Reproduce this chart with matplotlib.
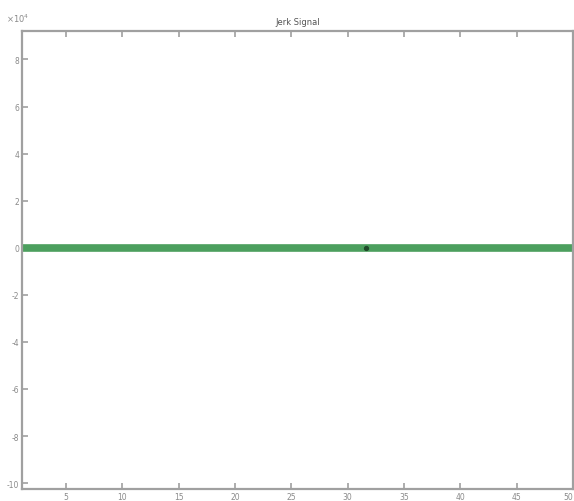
import numpy as np
import matplotlib.pyplot as plt

# signal samples (flat at zero) and the one flagged sample
t = np.arange(1, 51)
signal = np.zeros(len(t))
flag_t = [31.6]
flag_val = [0.0]

xticks = [5, 10, 15, 20, 25, 30, 35, 40, 45, 50]
yticks = [8, 6, 4, 2, 0, -2, -4, -6, -8, -10]

fig = plt.figure(figsize=(5.74, 5.02), dpi=100)
ax = fig.add_axes([0.0383, 0.0239, 0.96, 0.912])

ax.plot(t, signal, color='#4c9f5e', linewidth=5.5, solid_capstyle='butt')
ax.plot(flag_t, flag_val, 'o', color='#1f4a2a', markersize=2.8)

ax.set_xlim(1.1, 50)
ax.set_ylim(-10.25, 9.2)
ax.set_xticks(xticks)
ax.set_yticks(yticks)
ax.set_xticklabels([str(v) for v in xticks])
ax.set_yticklabels([str(v) for v in yticks])
# keep the last x label inside the figure edge
ax.get_xticklabels()[-1].set_horizontalalignment('right')

grey = '#a0a0a0'
for s in ax.spines.values():
    s.set_color(grey)
    s.set_linewidth(1.6)
ax.tick_params(direction='in', length=4, width=1.2, color=grey,
               labelcolor='#8a8a8a', labelsize=5.5, top=True, right=False, pad=2)

ax.set_title('Jerk Signal', fontsize=6, color='#555555', pad=5)
fig.text(0.01, 0.955, r'$\times10^{4}$', fontsize=6, color='#8a8a8a')

fig.savefig('out.png', dpi=100)
plt.close(fig)
